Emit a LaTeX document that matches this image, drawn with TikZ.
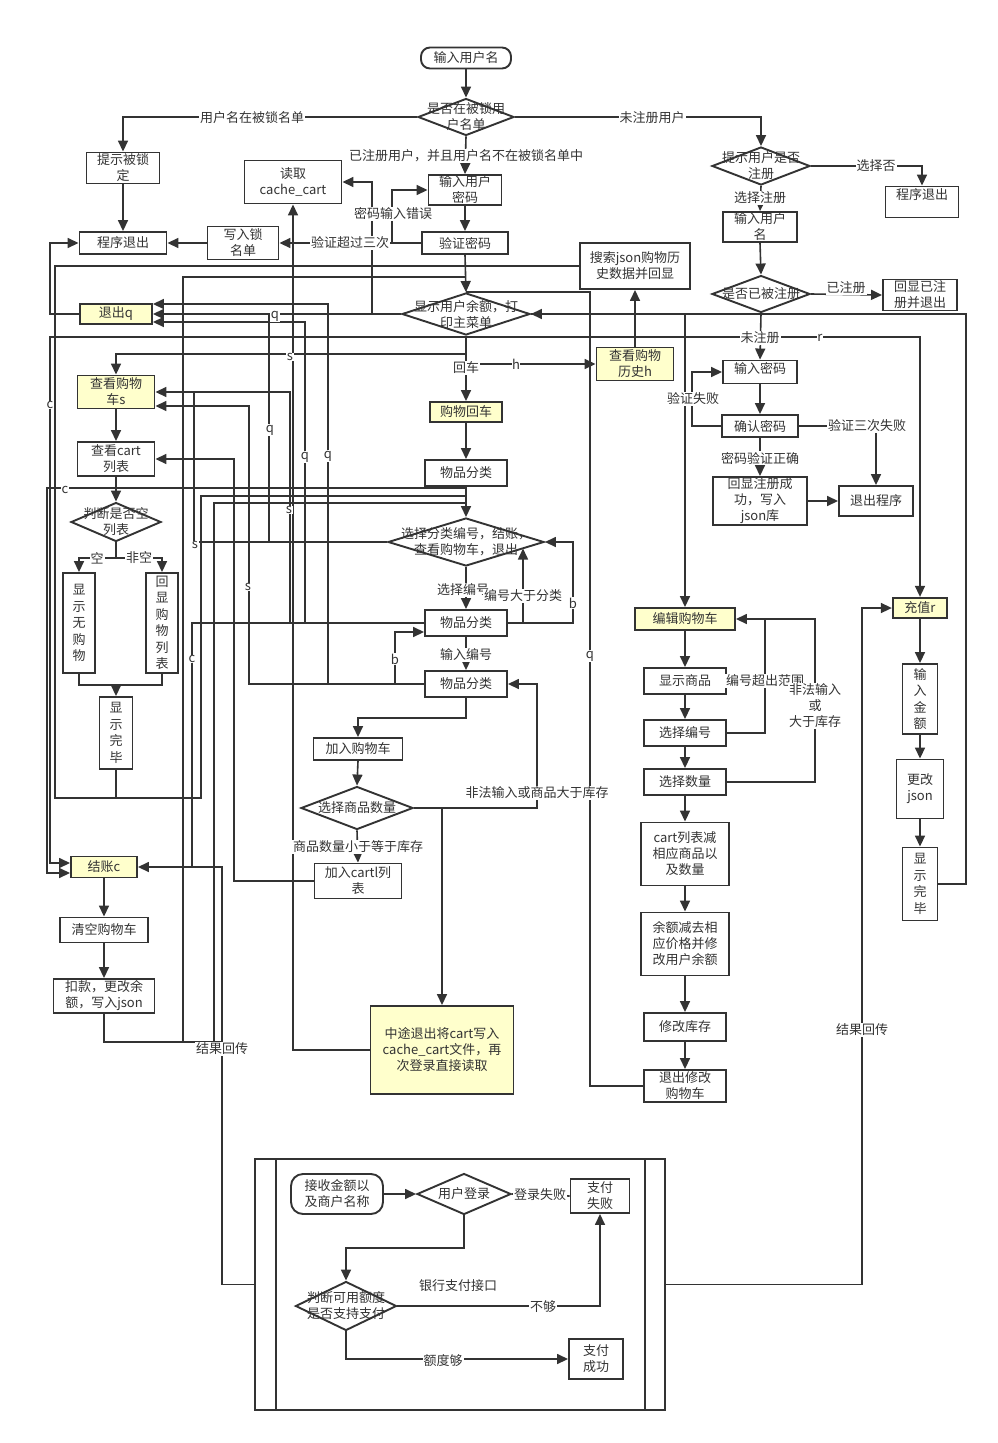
\documentclass[tikz,border=0pt]{standalone}
\usepackage{fontspec}
\setmainfont{Noto Sans CJK SC}
\usetikzlibrary{shapes.geometric,arrows.meta}
\definecolor{lc}{HTML}{333333}
\definecolor{yel}{HTML}{FFFFCC}
\newcommand\fs{\fontsize{13}{16}\selectfont}
\newcommand\vfs{\fontsize{13}{16.5}\selectfont}
\begin{document}
\begin{tikzpicture}[x=1pt,y=-1pt,
 ln/.style={draw=lc,line width=1.6pt},
 arr/.style={ln,-{Triangle[length=11pt,width=10pt]}},
 box/.style={draw=lc,line width=1.9pt,fill=white,inner sep=0.5pt,align=center,font=\fs,text=lc},
 ybox/.style={box,fill=yel},
 rbox/.style={box,rounded corners=9pt},
 vbox/.style={box,font=\vfs},
 dia/.style={diamond,draw=lc,line width=1.9pt,fill=white,inner sep=0pt},
 dtxt/.style={align=center,font=\fs,text=lc,inner sep=0pt},
 lbl/.style={fill=white,inner sep=1pt,font=\fs,text=lc,align=center},
 sl/.style={fill=white,inner sep=0.5pt,font=\fs,text=lc},
]
\useasboundingbox (0,0) rectangle (998,1443);
\fill[white] (0,0) rectangle (998,1443);

% ---------------- nodes: top / login ----------------
\node[rbox,minimum width=90,minimum height=21] (start) at (466,58) {输入用户名};
\node[dia,minimum width=96,minimum height=37] (d1) at (466,117) {};
\node[dtxt] at (466,117) {是否在被锁用\\户名单};
\node[box,minimum width=73,minimum height=31] (locked) at (123,168) {提示被锁\\定};
\node[box,minimum width=97,minimum height=43] (cache) at (293,182) {读取\\cache\_cart};
\node[box,minimum width=73,minimum height=30] (pwd) at (465,190) {输入用户\\密码};
\node[box,minimum width=86,minimum height=22] (verify) at (465,243) {验证密码};
\node[box,minimum width=71,minimum height=33] (lockw) at (243,243) {写入锁\\名单};
\node[box,minimum width=87,minimum height=22] (exit1) at (123,243) {程序退出};

% register branch
\node[dia,minimum width=98,minimum height=38] (d2) at (761,166) {};
\node[dtxt] at (761,166) {提示用户是否\\注册};
\node[box,minimum width=73,minimum height=31] (exit2) at (922,202) {};
\node[dtxt] at (922,195) {程序退出};
\node[box,minimum width=74,minimum height=30] (uname) at (760,227) {输入用户\\名};
\node[dia,minimum width=98,minimum height=37] (d3) at (761,294) {};
\node[dtxt] at (761,294) {是否已被注册};
\node[box,minimum width=74,minimum height=31] (regd) at (920,295) {回显已注\\册并退出};
\node[box,minimum width=74,minimum height=23] (pw2) at (760,372) {};
\node[dtxt] at (760,368) {输入密码};
\node[box,minimum width=76,minimum height=22] (confirm) at (760,426) {确认密码};
\node[box,minimum width=94,minimum height=48] (regok) at (760,501) {回显注册成\\功，写入\\json库};
\node[box,minimum width=74,minimum height=30] (exit3) at (876,501) {退出程序};

% main menu
\node[box,minimum width=110,minimum height=46] (hist) at (635,266) {搜索json购物历\\史数据并回显};
\node[ybox,minimum width=77,minimum height=33] (histh) at (635,364) {查看购物\\历史h};
\node[dia,minimum width=128,minimum height=42] (d0) at (466,314) {};
\node[dtxt] at (466,314) {显示用户余额，打\\印主菜单};
\node[ybox,minimum width=72,minimum height=20] (back) at (466,412) {购物回车};
\node[box,minimum width=82,minimum height=26] (cat1) at (466,473) {物品分类};
\node[dia,minimum width=156,minimum height=48] (d4) at (466,542) {};
\node[dtxt] at (466,542) {选择分类编号，结账，\\查看购物车，退出};
\node[box,minimum width=82,minimum height=26] (cat2) at (466,623) {物品分类};
\node[box,minimum width=82,minimum height=26] (cat3) at (466,684) {物品分类};
\node[box,minimum width=89,minimum height=22] (addcart) at (358,749) {加入购物车};
\node[dia,minimum width=112,minimum height=43] (d5) at (357,808) {};
\node[dtxt] at (357,808) {选择商品数量};
\node[box,minimum width=87,minimum height=35] (addlist) at (358,881) {加入cartl列\\表};
\node[ybox,minimum width=143,minimum height=88] (midexit) at (442,1050) {中途退出将cart写入\\cache\_cart文件，再\\次登录直接读取};

% left column
\node[ybox,minimum width=72,minimum height=20] (quit) at (116,314) {退出q};
\node[ybox,minimum width=77,minimum height=33] (viewcart) at (116,392) {查看购物\\车s};
\node[box,minimum width=77,minimum height=34] (cartlist) at (116,459) {查看cart\\列表};
\node[dia,minimum width=90,minimum height=39] (d6) at (116,522) {};
\node[dtxt] at (116,522) {判断是否空\\列表};
\node[vbox,minimum width=32,minimum height=100] (empty) at (79,623) {显\\示\\无\\购\\物};
\node[vbox,minimum width=32,minimum height=100] (nonempty) at (162,623) {回\\显\\购\\物\\列\\表};
\node[vbox,minimum width=33,minimum height=72] (done1) at (116,733) {显\\示\\完\\毕};
\node[ybox,minimum width=66,minimum height=21] (checkout) at (104,867) {结账c};
\node[box,minimum width=88,minimum height=25] (clear) at (104,930) {清空购物车};
\node[box,minimum width=101,minimum height=34] (pay) at (104,996) {扣款，更改余\\额，写入json};

% edit cart column
\node[ybox,minimum width=100,minimum height=22] (editcart) at (685,619) {编辑购物车};
\node[box,minimum width=82,minimum height=26] (showgoods) at (685,681) {显示商品};
\node[box,minimum width=82,minimum height=26] (selno) at (685,733) {选择编号};
\node[box,minimum width=82,minimum height=26] (selqty) at (685,782) {选择数量};
\node[box,minimum width=88,minimum height=63] (cartsub) at (685,854) {cart列表减\\相应商品以\\及数量};
\node[box,minimum width=88,minimum height=63] (balsub) at (685,944) {余额减去相\\应价格并修\\改用户余额};
\node[box,minimum width=82,minimum height=28] (stock) at (685,1027) {修改库存};
\node[box,minimum width=82,minimum height=32] (exitedit) at (685,1086) {退出修改\\购物车};

% charge column
\node[ybox,line width=2.3pt,minimum width=54,minimum height=20] (charge) at (920,608) {充值r};
\node[vbox,minimum width=35,minimum height=70] (amount) at (920,699) {输\\入\\金\\额};
\node[box,minimum width=47,minimum height=59] (chjson) at (920,789) {更改\\json};
\node[vbox,minimum width=35,minimum height=73] (done2) at (920,884) {显\\示\\完\\毕};

% bank frame
\node[draw=lc,line width=1.9pt,minimum width=410,minimum height=251,inner sep=0pt] (frame) at (460,1284.5) {};
\draw[lc,line width=1.9pt] (276,1159) -- (276,1410);
\draw[lc,line width=1.9pt] (645,1159) -- (645,1410);
\node[rbox,rounded corners=12pt,minimum width=92,minimum height=40] (recv) at (337,1194) {接收金额以\\及商户名称};
\node[dia,minimum width=94,minimum height=41] (d7) at (464,1194) {};
\node[dtxt] at (464,1194) {用户登录};
\node[box,minimum width=59,minimum height=34] (payfail) at (600,1196) {支付\\失败};
\node[dia,minimum width=101,minimum height=49] (d8) at (346,1306) {};
\node[dtxt] at (346,1306) {判断可用额度\\是否支持支付};
\node[box,minimum width=54,minimum height=40] (payok) at (596,1359) {支付\\成功};
\node[dtxt] at (458,1286) {银行支付接口};

% ---------------- edges ----------------
\draw[arr] (start.south) -- (d1.north);
\draw[arr] (d1.west) -| (locked.north);
\draw[arr] (d1.east) -| (d2.north);
\draw[arr] (d1.south) -- (pwd.north);
\draw[arr] (pwd.south) -- (verify.north);
\draw[arr] (verify.west) -- (392,243) |- (pwd.west);
\draw[arr] (verify.west) -- (lockw.east);
\draw[arr] (lockw.west) -- (exit1.east);
\draw[arr] (locked.south) -- (exit1.north);
\draw[arr] (quit.west) -| (50,243) -- (exit1.west);
\draw[arr] (verify.south) -- (d0.north);
\draw[arr] (d0.west) -- (quit.east);
\draw[arr] (d0.west) -| (372,182) -- (cache.east);
\draw[arr] (midexit.west) -| (cache.south);
\draw[arr] (done2.east) -| (966,314) -- (d0.east);
\draw[arr] (d0.east) -| (editcart.north);
\draw[arr] (d0.south) -- (back.north);
\draw[arr] (d0.south) |- (50,337) |- ([yshift=4pt]checkout.west);
\draw[arr] (d0.south) |- (920,337) -- (charge.north);
\draw[arr] (d0.south) |- (116,354) -- (viewcart.north);
\draw[arr] (d0.south) |- (histh.west);
\draw[arr] (histh.north) -- (hist.south);
\draw[ln] (hist.west) -| (55,798) -- (201,798) -- (201,496) -- (466,496);
\draw[ln] (done1.south) -- (116,798);
\draw[ln] (pay.south) |- (222,1042);
\draw[ln] (183,1042) -- (183,277) -- (466,277);
\draw[ln] (214,1042) -- (214,503) -- (466,503);
\draw[arr] (back.south) -- (cat1.north);
\draw[arr] (cat1.south) -- (d4.north);
\draw[arr] (cat1.south) |- (47,488) |- ([yshift=-6pt]checkout.west);
\draw[arr] (d4.west) -| (194,392) -- (viewcart.east);
\draw[ln] (269,542) -- (269,314);
\draw[arr] (d4.south) -- (cat2.north);
\draw[arr] (cat2.east) -| (573,542) -- (d4.east);
\draw[arr] (cat2.east) -| (523,548.5);
\draw[ln] (cat2.west) -| (192,867);
\draw[arr] (305,623) -- (305,322) -- ([yshift=-8pt]quit.east);
\draw[ln] (290,623) -- (290,392) -- (194,392);
\draw[arr] (cat2.south) -- (cat3.north);
\draw[arr] (cat3.west) -| (395,632) -- ([yshift=-9pt]cat2.west);
\draw[arr] (328,684) -- (328,304) -- ([yshift=10pt]quit.east);
\draw[arr] (cat3.west) -| (249,406) -- ([yshift=-14pt]viewcart.east);
\draw[arr] (cat3.south) |- (358,718) -- (addcart.north);
\draw[arr] (addcart.south) -- (d5.north);
\draw[arr] (d5.east) -| (537,684) -- (cat3.east);
\draw[arr] (442,808) -- (midexit.north);
\draw[arr] (d5.south) -- (addlist.north);
\draw[arr] (addlist.west) -| (234,459) -- (cartlist.east);
\draw[arr] (viewcart.south) -- (cartlist.north);
\draw[arr] (cartlist.south) -- (d6.north);
\draw[arr] (d6.south) |- (79,558) -- (empty.north);
\draw[arr] (d6.south) |- (162,558) -- (nonempty.north);
\draw[ln] (empty.south) |- (116,685);
\draw[arr] (nonempty.south) |- (116,685) -- (done1.north);
\draw[arr] (checkout.south) -- (clear.north);
\draw[arr] (clear.south) -- (pay.north);
\draw[arr] (frame.west) -| (222,867) -- (checkout.east);
\draw[arr] (frame.east) -| (862,608) -- (charge.west);
\draw[arr] (charge.south) -- (amount.north);
\draw[arr] (amount.south) -- (chjson.north);
\draw[arr] (chjson.south) -- (done2.north);

\draw[arr] (d2.east) -| (exit2.north);
\draw[arr] (d2.south) -- (uname.north);
\draw[arr] (uname.south) -- (d3.north);
\draw[arr] (d3.east) -- (regd.west);
\draw[arr] (d3.south) -- (pw2.north);
\draw[arr] (pw2.south) -- (confirm.north);
\draw[arr] (confirm.west) -| (692,372) -- (pw2.west);
\draw[arr] (confirm.east) -| (exit3.north);
\draw[arr] (confirm.south) -- (regok.north);
\draw[arr] (regok.east) -- (exit3.west);

\draw[arr] (editcart.south) -- (showgoods.north);
\draw[arr] (showgoods.south) -- (selno.north);
\draw[arr] (selno.south) -- (selqty.north);
\draw[arr] (selqty.south) -- (cartsub.north);
\draw[arr] (cartsub.south) -- (balsub.north);
\draw[arr] (balsub.south) -- (stock.north);
\draw[arr] (stock.south) -- (exitedit.north);
\draw[arr] (selno.east) -| (765,619) -- (editcart.east);
\draw[ln] (selqty.east) -| (815,619) -- (765,619);
\draw[ln] (exitedit.west) -| (590,292) -- (466,292);

\draw[arr] (recv.east) -- (d7.west);
\draw[ln] (d7.east) -- (payfail.west);
\draw[arr] (d7.south) |- (346,1248) -- (d8.north);
\draw[arr] (d8.east) -| (payfail.south);
\draw[arr] (d8.south) |- (payok.west);

% ---------------- labels ----------------
\node[lbl] at (252,118) {用户名在被锁名单};
\node[lbl] at (652,118) {未注册用户};
\node[lbl] at (466,156) {已注册用户，并且用户名不在被锁名单中};
\node[lbl] at (393,214) {密码输入错误};
\node[lbl] at (350,243) {验证超过三次};
\node[lbl] at (876,166) {选择否};
\node[lbl] at (760,198) {选择注册};
\node[lbl] at (846,288) {已注册};
\node[lbl] at (760,338) {未注册};
\node[lbl] at (693,399) {验证失败};
\node[lbl] at (867,426) {验证三次失败};
\node[lbl] at (760,458) {密码验证正确};
\node[lbl] at (466,368) {回车};
\node[sl] at (516,364) {h};
\node[sl] at (820,338) {r};
\node[sl] at (50,405) {c};
\node[sl] at (290,357) {s};
\node[sl] at (275,316) {q};
\node[sl] at (270,430) {q};
\node[sl] at (305,457) {q};
\node[sl] at (328,456) {q};
\node[sl] at (289,510) {s};
\node[sl] at (65,490) {c};
\node[sl] at (195,545) {s};
\node[lbl] at (463,590) {选择编号};
\node[lbl] at (523,596) {编号大于分类};
\node[sl] at (573,603) {b};
\node[sl] at (248,587) {s};
\node[sl] at (192,659) {c};
\node[sl] at (395,659) {b};
\node[lbl] at (466,655) {输入编号};
\node[sl] at (590,656) {q};
\node[lbl] at (537,793) {非法输入或商品大于库存};
\node[lbl] at (358,847) {商品数量小于等于库存};
\node[lbl] at (97,558) {空};
\node[lbl] at (139,558) {非空};
\node[lbl] at (765,681) {编号超出范围};
\node[lbl] at (815,706) {非法输入\\或\\大于库存};
\node[lbl] at (222,1049) {结果回传};
\node[lbl] at (862,1030) {结果回传};
\node[lbl] at (540,1195) {登录失败};
\node[lbl] at (543,1307) {不够};
\node[lbl] at (443,1361) {额度够};
\end{tikzpicture}
\end{document}
